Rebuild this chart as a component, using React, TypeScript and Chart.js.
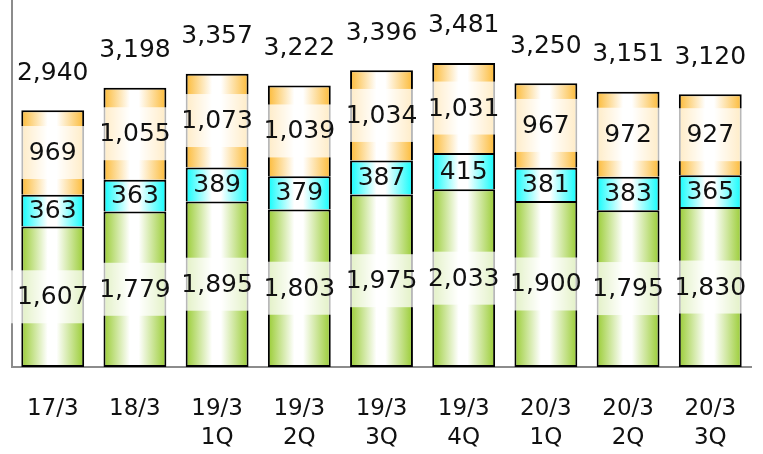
import React, { useEffect, useRef } from "react";
import { Chart, registerables } from "chart.js";

Chart.register(...registerables);

const categories: (string | string[])[] = [
  "17/3",
  "18/3",
  ["19/3", "1Q"],
  ["19/3", "2Q"],
  ["19/3", "3Q"],
  ["19/3", "4Q"],
  ["20/3", "1Q"],
  ["20/3", "2Q"],
  ["20/3", "3Q"],
];
const greenValues = [1607, 1779, 1895, 1803, 1975, 2033, 1900, 1795, 1830];
const cyanValues = [363, 363, 389, 379, 387, 415, 381, 383, 365];
const orangeValues = [969, 1055, 1073, 1039, 1034, 1031, 967, 972, 927];
const totalValues = [2940, 3198, 3357, 3222, 3396, 3481, 3250, 3151, 3120];

const FONT = "'DejaVu Sans', Verdana, sans-serif";
const fmt = (v: number) => v.toLocaleString("en-US");

function gradientFor(edge: string) {
  return (ctx: any) => {
    const chart = ctx.chart;
    const xs = chart.scales?.x;
    if (!xs || !chart.chartArea) return edge;
    const cx = xs.getPixelForValue(ctx.dataIndex);
    const half = (xs.width / categories.length) * 0.765 / 2;
    const g = chart.ctx.createLinearGradient(cx - half, 0, cx + half, 0);
    g.addColorStop(0, edge);
    g.addColorStop(0.42, "#ffffff");
    g.addColorStop(0.56, "#ffffff");
    g.addColorStop(1, edge);
    return g;
  };
}

const labelPlugin = {
  id: "labelPlugin",
  afterDatasetsDraw(chart: any) {
    const ctx = chart.ctx;
    const ys = chart.scales.y;
    ctx.save();
    ctx.font = `25px ${FONT}`;
    ctx.textAlign = "center";
    ctx.textBaseline = "middle";
    chart.data.datasets.forEach((ds: any, di: number) => {
      const meta = chart.getDatasetMeta(di);
      meta.data.forEach((el: any, i: number) => {
        const v = ds.data[i];
        const text = fmt(v);
        const cy = (el.y + el.base) / 2;
        if (ds.boxed) {
          const tw = ctx.measureText(text).width;
          const w = Math.max(el.width + 2, tw + 14);
          ctx.fillStyle = "rgba(255,255,255,0.72)";
          ctx.fillRect(el.x - w / 2, cy - 26.5, w, 53);
        }
        ctx.fillStyle = "#111";
        ctx.fillText(text, el.x, cy + 1);
      });
    });
    const meta0 = chart.getDatasetMeta(0);
    totalValues.forEach((t, i) => {
      const el = meta0.data[i];
      const y = ys.getPixelForValue(t);
      ctx.fillStyle = "#111";
      ctx.fillText(fmt(t), el.x, y - 37);
    });
    ctx.restore();
  },
};

export default function App() {
  const ref = useRef<HTMLCanvasElement>(null);
  useEffect(() => {
    if (!ref.current) return;
    const common = {
      borderColor: "#000",
      borderWidth: 2,
      barPercentage: 1,
      categoryPercentage: 0.765,
    };
    const chart = new Chart(ref.current, {
      type: "bar",
      data: {
        labels: categories,
        datasets: [
          { ...common, borderSkipped: false, data: greenValues, backgroundColor: gradientFor("#99cc33"), boxed: true } as any,
          { ...common, borderSkipped: "bottom", data: cyanValues, backgroundColor: gradientFor("#10fcfc"), boxed: false } as any,
          { ...common, borderSkipped: "bottom", data: orangeValues, backgroundColor: gradientFor("#fcba36"), boxed: true } as any,
        ],
      },
      options: {
        animation: false,
        responsive: true,
        maintainAspectRatio: false,
        layout: { padding: { left: 10, top: 0, right: 0, bottom: 0 } },
        plugins: { legend: { display: false }, tooltip: { enabled: false } },
        scales: {
          x: {
            stacked: true,
            grid: { display: false, drawTicks: false },
            border: { display: true, color: "#8c8c8c", width: 2 },
            afterFit(scale: any) {
              scale.height = 87;
            },
            ticks: {
              font: { family: FONT, size: 23, lineHeight: 1.28 },
              color: "#111",
              padding: 27,
              maxRotation: 0,
              autoSkip: false,
            },
          },
          y: {
            stacked: true,
            min: 0,
            max: 4200,
            grid: { display: false, drawTicks: false },
            border: { display: true, color: "#8c8c8c", width: 2 },
            ticks: { display: false },
          },
        },
      },
      plugins: [labelPlugin],
    });
    return () => chart.destroy();
  }, []);
  return (
    <div style={{ position: "absolute", left: 0, top: 0, width: 763, height: 454 }}>
      <canvas ref={ref} />
    </div>
  );
}
